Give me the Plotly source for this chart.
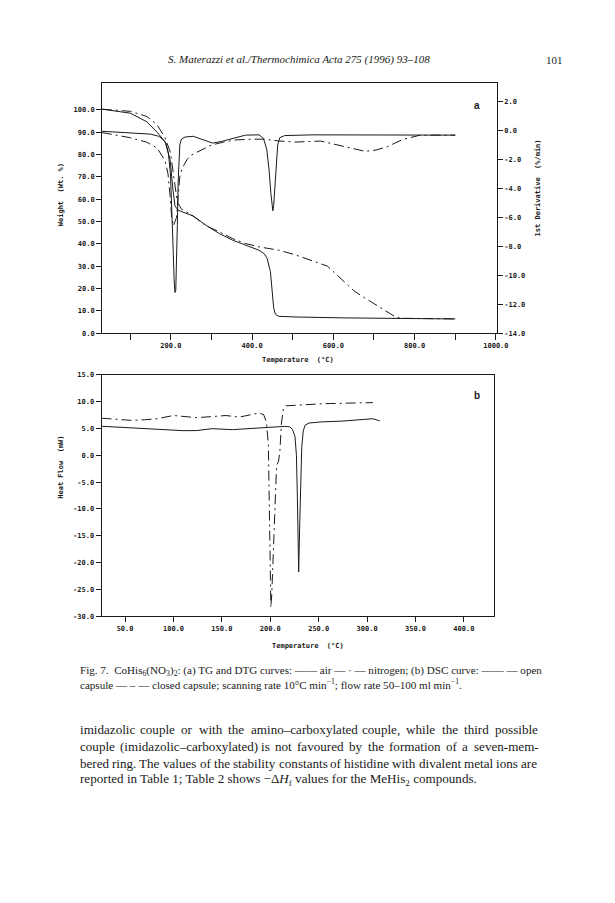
import plotly.graph_objects as go
import re

# the page puts the figure inside the browser's default 8px body margin;
# keep the figure small enough that no scrollbars appear
OFF = 8
W, H = 590, 880

# ---------------- data: chart a (TG / DTG) ----------------
tg_air_T = [30, 60, 100, 141, 166, 186, 198, 205, 210, 218, 238, 255, 287, 320, 352, 384, 417, 430, 437, 445, 449, 453, 456, 460, 466, 505, 626, 800, 900]
tg_air_w = [100.3, 99.6, 98.5, 94.6, 90.0, 85.6, 77.8, 64.5, 57.0, 55.0, 53.4, 52.4, 48.2, 44.5, 41.6, 39.4, 37.1, 35.5, 33.4, 27.5, 17.3, 11.5, 9.0, 8.0, 7.5, 7.2, 6.8, 6.5, 6.3]

tg_n2_T = [30, 60, 101, 141, 166, 186, 199, 208, 216, 226, 255, 287, 320, 352, 384, 417, 466, 505, 545, 585, 609, 626, 650, 675, 698, 720, 740, 755, 770, 800, 900]
tg_n2_w = [100.3, 99.9, 99.3, 97.0, 93.3, 87.4, 80.8, 69.0, 58.6, 55.6, 52.4, 48.0, 45.3, 42.3, 40.1, 38.6, 37.1, 35.1, 32.7, 30.0, 26.0, 23.0, 19.0, 16.0, 13.5, 11.0, 8.6, 7.0, 6.6, 6.5, 6.4]

dtg_air_T = [30, 100, 150, 170, 180, 188, 194, 199, 203, 206, 208, 210, 212, 214, 216, 218, 220, 222, 226, 235, 255, 275, 303, 325, 352, 384, 417, 428, 436, 442, 446, 449, 451, 453, 456, 459, 463, 468, 480, 550, 700, 900]
dtg_air_d = [-0.05, -0.15, -0.25, -0.4, -0.6, -0.9, -1.6, -3.0, -5.5, -8.5, -10.3, -11.2, -11.1, -9.5, -6.5, -3.5, -1.8, -1.0, -0.6, -0.45, -0.4, -0.6, -0.87, -0.75, -0.53, -0.32, -0.3, -0.55, -1.3, -2.8, -4.3, -5.3, -5.55, -5.2, -3.8, -2.2, -1.0, -0.5, -0.35, -0.3, -0.3, -0.32]

dtg_n2_T = [30, 100, 140, 166, 186, 193, 198, 202, 206, 210, 214, 218, 222, 228, 240, 250, 270, 287, 300, 330, 360, 400, 430, 465, 505, 569, 609, 650, 678, 705, 731, 771, 811, 850, 900]
dtg_n2_d = [-0.14, -0.5, -0.8, -1.2, -2.1, -3.0, -4.5, -6.0, -6.6, -6.3, -6.0, -4.5, -3.2, -2.6, -2.0, -1.7, -1.4, -1.2, -1.0, -0.8, -0.65, -0.6, -0.6, -0.72, -0.8, -0.73, -0.99, -1.3, -1.44, -1.35, -1.14, -0.62, -0.34, -0.32, -0.32]

# ---------------- data: chart b (DSC) ----------------
dsc_open_T = [25.7, 56, 83, 110, 124, 140, 161, 181, 201, 215, 220, 223, 225.5, 227, 228, 229.3, 230.5, 231.5, 232.5, 234, 236, 240, 252, 275, 289, 306, 313]
dsc_open_v = [5.4, 5.07, 4.83, 4.58, 4.6, 4.95, 4.77, 5.0, 5.25, 5.38, 5.3, 4.8, 3.5, 0.0, -8.0, -21.7, -12.0, -4.0, 1.5, 4.5, 5.6, 6.0, 6.2, 6.37, 6.6, 6.8, 6.4]

dsc_closed_T = [25.7, 40, 56, 70, 83, 100, 115, 124, 140, 154, 168, 180, 188, 193, 196, 198, 199, 200, 200.6, 201.5, 203, 205, 206.5, 208.5, 210, 211.5, 213.5, 216, 225, 255, 280, 306]
dsc_closed_v = [6.9, 6.7, 6.5, 6.6, 6.8, 7.4, 7.2, 7.0, 7.2, 7.4, 7.1, 7.5, 7.85, 7.6, 6.2, 2.0, -8.0, -20.0, -28.3, -26.0, -18.0, -6.0, -1.8, -1.2, 1.0, 6.0, 8.6, 9.2, 9.3, 9.6, 9.7, 9.8]

# ---------------- tick labels ----------------
a_x_ticks = list(range(100, 1001, 100))
a_x_text = [f"{v:.1f}" if v % 200 == 0 else "" for v in a_x_ticks]
a_yl_ticks = list(range(0, 101, 10))
a_yr_ticks = list(range(-14, 3, 2))
b_x_ticks = list(range(50, 401, 50))
b_y_ticks = list(range(-30, 16, 5))

# ---------------- page text ----------------
header_text = "<i>S. Materazzi et al./Thermochimica Acta 275 (1996) 93–108</i>"
page_number = "101"
caption_lines = [
    "Fig. 7.  CoHis<sub>6</sub>(NO<sub>3</sub>)<sub>2</sub>: (a) TG and DTG curves: —— air — · — nitrogen; (b) DSC curve: —— — open",
    "capsule — – — closed capsule; scanning rate 10°C min<sup>−1</sup>; flow rate 50–100 ml min<sup>−1</sup>.",
]
body_lines = [
    "imidazolic couple or with the amino–carboxylated couple, while the third possible",
    "couple (imidazolic–carboxylated) is not favoured by the formation of a seven-mem-",
    "bered ring. The values of the stability constants of histidine with divalent metal ions are",
    "reported in Table 1; Table 2 shows −Δ<i>H</i><sub>f</sub> values for the MeHis<sub>2</sub> compounds.",
]


def px(x):
    return (x - OFF) / W


def py(y):
    return 1 - (y - OFF) / H


# Times (Liberation Serif) advance widths, 1/1000 em
TW = {" ": 250, "!": 333, "(": 333, ")": 333, ",": 250, "-": 333, ".": 250, "/": 278, ":": 278, ";": 278,
      "°": 400, "·": 250, "–": 500, "—": 1000, "−": 564, "Δ": 612, "%": 833}
for ch in "0123456789":
    TW[ch] = 500
TW.update(dict(zip("ABCDEFGHIJKLMNOPQRSTUVWXYZ",
                   [722, 667, 667, 722, 611, 556, 722, 722, 333, 389, 722, 611, 889, 722, 722, 556, 722, 667, 556, 611, 722, 722, 944, 722, 722, 611])))
TW.update(dict(zip("abcdefghijklmnopqrstuvwxyz",
                   [444, 500, 444, 500, 444, 333, 500, 500, 278, 278, 500, 278, 778, 500, 500, 500, 500, 333, 389, 278, 500, 500, 722, 500, 500, 444])))


def text_width(s, size):
    total = 0.0
    scale = 1.0
    for tok in re.split(r"(<[^>]+>)", s):
        if tok.startswith("<"):
            if tok in ("<sub>", "<sup>"):
                scale = 0.7
            elif tok in ("</sub>", "</sup>"):
                scale = 1.0
            continue
        for ch in tok:
            total += TW.get(ch, 500) * scale
    return total * size / 1000.0


INK = "#1a1a1a"
DASHDOT = "10px,4px,2px,4px"
MONO = "DejaVu Sans Mono"
SERIF = "Liberation Serif"

fig = go.Figure()

line_solid = dict(color=INK, width=1)
line_dd = dict(color=INK, width=1, dash=DASHDOT)

fig.add_trace(go.Scatter(x=tg_air_T, y=tg_air_w, mode="lines", line=line_solid, xaxis="x", yaxis="y"))
fig.add_trace(go.Scatter(x=tg_n2_T, y=tg_n2_w, mode="lines", line=line_dd, xaxis="x", yaxis="y"))
fig.add_trace(go.Scatter(x=dtg_air_T, y=dtg_air_d, mode="lines", line=line_solid, xaxis="x", yaxis="y2"))
fig.add_trace(go.Scatter(x=dtg_n2_T, y=dtg_n2_d, mode="lines", line=line_dd, xaxis="x", yaxis="y2"))
fig.add_trace(go.Scatter(x=dsc_open_T, y=dsc_open_v, mode="lines", line=line_solid, xaxis="x2", yaxis="y3"))
fig.add_trace(go.Scatter(x=dsc_closed_T, y=dsc_closed_v, mode="lines", line=line_dd, xaxis="x2", yaxis="y3"))

tickfont = dict(family=MONO, size=7, color=INK, weight="bold")
common = dict(showgrid=False, zeroline=False, showline=True, linecolor=INK, linewidth=1,
              ticks="outside", tickcolor=INK, tickwidth=1, tickfont=tickfont)

fig.update_layout(
    width=W, height=H, margin=dict(l=0, r=0, t=0, b=0),
    paper_bgcolor="white", plot_bgcolor="white", showlegend=False,
    xaxis=dict(domain=[px(104), px(507)], range=[30.6, 1002.4], anchor="y", ticklen=6,
               tickvals=a_x_ticks, ticktext=a_x_text, mirror=True, **common),
    yaxis=dict(domain=[py(332), py(80)], range=[0, 111.85], anchor="x", ticklen=5,
               tickvals=a_yl_ticks, ticktext=[f"{v:.1f}" for v in a_yl_ticks], **common),
    yaxis2=dict(range=[-14, 3.26], overlaying="y", side="right", anchor="x", ticklen=5,
                tickvals=a_yr_ticks, ticktext=[f"{v:.1f}" for v in a_yr_ticks], **common),
    xaxis2=dict(domain=[px(103.5), px(504)], range=[25.7, 431], anchor="y3", ticklen=5,
                tickvals=b_x_ticks, ticktext=[f"{v:.1f}" for v in b_x_ticks], mirror=True, **common),
    yaxis3=dict(domain=[py(618), py(374)], range=[-30, 15], anchor="x2", mirror=True, ticklen=5,
                tickvals=b_y_ticks, ticktext=[f"{v:.1f}" for v in b_y_ticks], **common),
)

ann = []


def add(text, x, y, size, family=MONO, xanchor="center", angle=0, weight="normal"):
    ann.append(dict(text=text, x=px(x), y=py(y), xref="paper", yref="paper", showarrow=False,
                    xanchor=xanchor, yanchor="middle", textangle=angle, borderpad=0,
                    font=dict(family=family, size=size, color=INK, weight=weight)))


# axis titles and panel letters
add("Weight  (Wt. %)", 62, 192, 7, angle=-90, weight="bold")
add("1st Derivative  (%/min)", 549, 185, 7, angle=-90, weight="bold")
add("Temperature  (°C)", 304, 359, 7, weight="bold")
add("<b>a</b>", 487, 102, 10, family="Liberation Sans")
add("Heat Flow  (mW)", 62, 467, 7, angle=-90, weight="bold")
add("Temperature  (°C)", 314, 648, 7, weight="bold")
add("<b>b</b>", 487, 395, 10, family="Liberation Sans")

# page header
add(header_text, 305, 56, 11, family=SERIF)
add(page_number, 566, 56, 11, family=SERIF)

# caption: size chosen so the first line spans the reference width
TEXT_L, TEXT_R = 80, 547
cap_size = 462 / text_width(caption_lines[0], 1.0)
for i, line in enumerate(caption_lines):
    add(line, TEXT_L, 673 + 13 * i, cap_size, family=SERIF, xanchor="left")

# body text, justified except for the last line
BODY_SIZE = 13.1
for i, line in enumerate(body_lines):
    y = 732 + 17 * i
    if i == len(body_lines) - 1:
        add(line, TEXT_L, y, BODY_SIZE, family=SERIF, xanchor="left")
        continue
    words = line.split(" ")
    widths = [text_width(w, BODY_SIZE) for w in words]
    gap = (TEXT_R - TEXT_L - sum(widths)) / (len(words) - 1)
    x = TEXT_L
    for w, wd in zip(words, widths):
        add(w, x, y, BODY_SIZE, family=SERIF, xanchor="left")
        x += wd + gap

fig.update_layout(annotations=ann)
fig.write_html("out.html")
